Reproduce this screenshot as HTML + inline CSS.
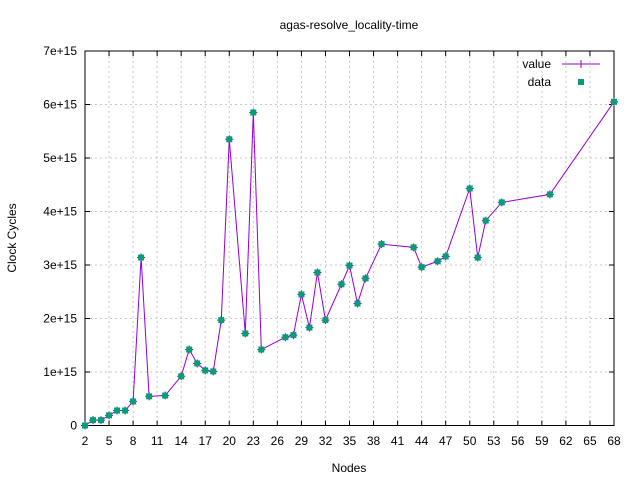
<!DOCTYPE html>
<html><head><meta charset="utf-8"><style>
body{margin:0;background:#fff}
svg{font-family:"Liberation Sans",sans-serif;font-size:12px}
</style></head><body>
<svg id="c" width="640" height="480" xmlns="http://www.w3.org/2000/svg">
<rect width="640" height="480" fill="#fff"/>
<g id="grid"></g><g id="axes"></g><g id="series"></g>
<text x="349" y="29" text-anchor="middle">agas-resolve_locality-time</text>
<text x="349" y="472" text-anchor="middle">Nodes</text>
<text transform="translate(16,238) rotate(-90)" text-anchor="middle">Clock Cycles</text>
<g>
<text x="551" y="68" text-anchor="end">value</text>
<line x1="562" y1="64" x2="600" y2="64" stroke="#9400d3"/>
<line x1="581" y1="60" x2="581" y2="68" stroke="#9400d3"/>
<text x="551" y="86" text-anchor="end">data</text>
<rect x="578" y="79" width="6" height="6" fill="#009e73"/>
</g>
</svg>
<script>
const nodes=[2,3,4,5,6,7,8,9,10,12,14,15,16,17,18,19,20,22,23,24,27,28,29,30,31,32,34,35,36,37,39,43,44,46,47,50,51,52,54,60,68];
const cycles=[0,0.1,0.1,0.19,0.28,0.28,0.45,3.14,0.545,0.56,0.92,1.42,1.16,1.03,1.01,1.97,5.35,1.72,5.85,1.42,1.65,1.69,2.45,1.83,2.86,1.97,2.64,2.99,2.28,2.75,3.39,3.33,2.96,3.07,3.16,4.43,3.14,3.83,4.17,4.32,6.05];
const xTicks=[2,5,8,11,14,17,20,23,26,29,32,35,38,41,44,47,50,53,56,59,62,65,68];
const yTicks=[0,1,2,3,4,5,6,7];
const yLabels=["0","1e+15","2e+15","3e+15","4e+15","5e+15","6e+15","7e+15"];
const X0=85,X1=614,Y0=425.5,Y1=51;
function xs(v){return X0+(v-2)/(68-2)*(X1-X0);}
function ys(v){return Y0-(v/7)*(Y0-Y1);}
const NS="http://www.w3.org/2000/svg";
function mk(t,a,p){const e=document.createElementNS(NS,t);for(const k in a)e.setAttribute(k,a[k]);p.appendChild(e);return e;}
const grid=document.getElementById('grid'),axes=document.getElementById('axes'),ser=document.getElementById('series');
xTicks.forEach((t,i)=>{const x=xs(t);
 if(i>0&&i<xTicks.length-1){const g=mk('line',{x1:x,y1:Y1,x2:x,y2:Y0,stroke:'#c8c8c8','stroke-dasharray':'2,3'},grid);
 
 }
 const tk=mk('line',{x1:x,y1:Y0,x2:x,y2:Y0-5,stroke:'#000'},axes);
 
 
 const tk2=mk('line',{x1:x,y1:Y1,x2:x,y2:Y1+5,stroke:'#000'},axes);
 
 
 const l=mk('text',{x:x,y:445,'text-anchor':'middle'},axes);l.textContent=t;
 
 
});
yTicks.forEach((t,i)=>{const y=ys(t);
 if(i>0&&i<yTicks.length-1){const g=mk('line',{x1:X0,y1:y,x2:X1,y2:y,stroke:'#c8c8c8','stroke-dasharray':'2,3'},grid);
 
 }
 const tk=mk('line',{x1:X0,y1:y,x2:X0+5,y2:y,stroke:'#000'},axes);
 
 
 const tk2=mk('line',{x1:X1,y1:y,x2:X1-5,y2:y,stroke:'#000'},axes);
 
 
 const l=mk('text',{x:77,y:y+4,'text-anchor':'end'},axes);l.textContent=yLabels[i];
 
 
});
const fr=mk('rect',{x:X0,y:Y1,width:X1-X0,height:Y0-Y1,fill:'none',stroke:'#000'},axes);


const pts=nodes.map((n,i)=>xs(n)+','+ys(cycles[i])).join(' ');
const pl=mk('polyline',{points:pts,fill:'none',stroke:'#9400d3','stroke-width':1},ser);


nodes.forEach((n,i)=>{const x=xs(n),y=ys(cycles[i]);
 const p=mk('path',{d:`M${x-4},${y}H${x+4}M${x},${y-4}V${y+4}`,stroke:'#9400d3'},ser);
 
 
 const r=mk('rect',{x:x-3,y:y-3,width:6,height:6,fill:'#009e73'},ser);
 
 
});
</script>
</body></html>
